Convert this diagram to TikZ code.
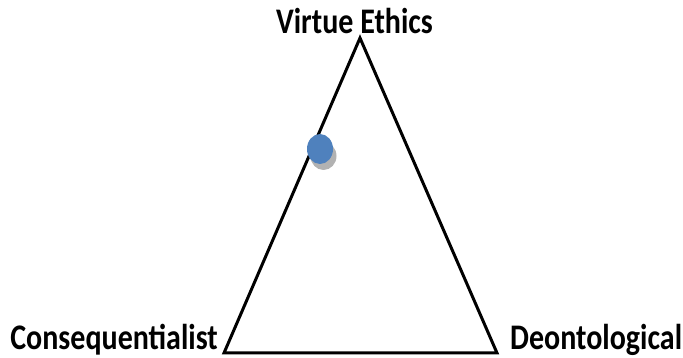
\documentclass[tikz,border=0pt]{standalone}
\usepackage{fontspec}
\setmainfont{Carlito}
\definecolor{dotblue}{RGB}{79,129,189}
\tikzset{
  corner/.style={inner sep=0pt,yscale=1.2,font=\fontsize{30}{34}\selectfont\bfseries},
  side/.style={line width=3pt,line join=miter},
}
\begin{document}
\begin{tikzpicture}[x=1pt,y=1pt]
\useasboundingbox (0,0) rectangle (683,358);
\coordinate (V) at (360,320);
\coordinate (C) at (224,5);
\coordinate (D) at (497,5);
\draw[side] (C) -- (V) -- (D) -- cycle;
\node[corner,anchor=base] (ve) at (354.5,324) {Virtue Ethics};
\node[corner,anchor=base east] (cq) at (218,8) {Consequentialist};
\node[corner,anchor=base west] (de) at (510,8) {Deontological};
\fill[black!30] (323.5,202) ellipse (13pt and 14pt);
\fill[dotblue] (320,209) ellipse (13pt and 15pt);
\end{tikzpicture}
\end{document}
